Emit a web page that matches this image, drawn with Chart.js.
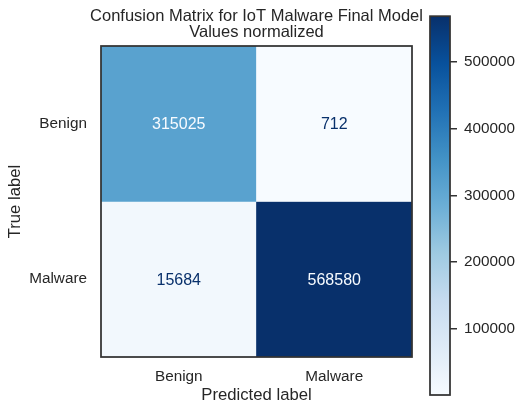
<!DOCTYPE html>
<html>
<head>
<meta charset="utf-8">
<script src="https://cdn.jsdelivr.net/npm/chart.js@4/dist/chart.umd.min.js"></script>
<style>
  html, body { margin: 0; padding: 0; background: #ffffff; }
  #wrap { position: relative; width: 524px; height: 415px; overflow: hidden; }
  canvas { position: absolute; top: 0; }
</style>
</head>
<body>
<div id="wrap">
  <canvas id="heat" width="513" height="415" style="left:0;width:513px;height:415px"></canvas>
  <canvas id="cbar" width="124" height="415" style="left:400px;width:124px;height:415px"></canvas>
</div>
<script>
// ---- data ----
const trueLabels = ['Benign', 'Malware'];
const predLabels = ['Benign', 'Malware'];
const rowBenign = [315025, 712];
const rowMalware = [15684, 568580];
const colorbarTicks = [100000, 200000, 300000, 400000, 500000];
const titleLines = ['Confusion Matrix for IoT Malware Final Model', 'Values normalized'];

// ---- colour map (matplotlib "Blues") ----
const BLUES = ['#f7fbff','#deebf7','#c6dbef','#9ecae1','#6baed6','#4292c6','#2171b5','#08519c','#08306b'];
function hexToRgb(h){ return [parseInt(h.slice(1,3),16), parseInt(h.slice(3,5),16), parseInt(h.slice(5,7),16)]; }
function cmap(t){
  t = Math.max(0, Math.min(1, t));
  const p = t * (BLUES.length - 1);
  const i = Math.min(Math.floor(p), BLUES.length - 2);
  const f = p - i;
  const a = hexToRgb(BLUES[i]), b = hexToRgb(BLUES[i+1]);
  const c = a.map((v, k) => Math.round(v + (b[k] - v) * f));
  return 'rgb(' + c.join(',') + ')';
}

const matrix = [rowBenign, rowMalware];
const allVals = matrix.flat();
const vmin = Math.min(...allVals);
const vmax = Math.max(...allVals);
const norm = v => (v - vmin) / (vmax - vmin);
const thresh = (vmin + vmax) / 2;

const FONT = '"Liberation Sans", Arial, "Helvetica", sans-serif';
const TXT = '#262626';
Chart.defaults.font.family = FONT;
Chart.defaults.color = TXT;

const frame = {
  id: 'frame',
  afterDatasetsDraw(chart) {
    const a = chart.chartArea, c = chart.ctx;
    c.save();
    c.strokeStyle = '#333333';
    c.lineWidth = 1.75;
    c.strokeRect(a.left, a.top, a.right - a.left, a.bottom - a.top);
    c.restore();
  }
};

const cellText = {
  id: 'cellText',
  afterDatasetsDraw(chart) {
    const c = chart.ctx;
    c.save();
    c.font = '16px ' + FONT;
    c.textAlign = 'center';
    c.textBaseline = 'middle';
    chart.data.datasets.forEach((ds, di) => {
      const meta = chart.getDatasetMeta(di);
      meta.data.forEach((el, i) => {
        const v = ds.values[i];
        c.fillStyle = v > thresh ? cmap(0) : cmap(1);
        c.fillText(String(v), el.x, (el.y + el.base) / 2 + 1);
      });
    });
    c.restore();
  }
};

new Chart(document.getElementById('heat'), {
  type: 'bar',
  data: {
    labels: predLabels,
    datasets: matrix.map((row, r) => ({
      label: trueLabels[r],
      data: row.map(() => [r - 0.5, r + 0.5]),
      values: row,
      backgroundColor: row.map(v => cmap(norm(v))),
      borderWidth: 0,
      barPercentage: 1,
      categoryPercentage: 1,
      grouped: false
    }))
  },
  options: {
    responsive: false,
    animation: false,
    events: [],
    layout: { padding: 0 },
    plugins: {
      legend: { display: false },
      tooltip: { enabled: false },
      title: {
        display: true,
        text: titleLines,
        color: TXT,
        font: { size: 16.5, lineHeight: 1.0, weight: 'normal' },
        padding: { top: 8, bottom: 5 }
      }
    },
    scales: {
      x: {
        type: 'category',
        offset: true,
        grid: { display: false, drawTicks: false },
        border: { display: false },
        ticks: { font: { size: 15.3 }, color: TXT, padding: 11 },
        title: { display: true, text: 'Predicted label', color: TXT, font: { size: 16.7 }, padding: { top: 0, bottom: 10 } },
        afterFit(s) { s.height = 58; }
      },
      y: {
        type: 'linear',
        reverse: true,
        min: -0.5,
        max: 1.5,
        afterBuildTicks(s) { s.ticks = trueLabels.map((_, i) => ({ value: i })); },
        grid: { display: false, drawTicks: false },
        border: { display: false },
        ticks: { autoSkip: false, font: { size: 15.3 }, color: TXT, padding: 14,
                 callback: v => trueLabels[v] },
        title: { display: true, text: 'True label', color: TXT, font: { size: 16.7 }, padding: { top: 5, bottom: 0 } },
        afterFit(s) { s.width = 101; }
      },
      ySpacer: {
        type: 'linear',
        position: 'right',
        display: true,
        grid: { display: false, drawTicks: false },
        border: { display: false },
        ticks: { display: false },
        afterFit(s) { s.width = 101; }
      }
    }
  },
  plugins: [cellText, frame]
});

new Chart(document.getElementById('cbar'), {
  type: 'bar',
  data: {
    labels: [''],
    datasets: [{
      data: [[vmin, vmax]],
      borderWidth: 0,
      barPercentage: 1,
      categoryPercentage: 1,
      backgroundColor(ctx) {
        const chart = ctx.chart;
        const y = chart.scales.y;
        if (!chart.chartArea || !y) return BLUES[4];
        const g = chart.ctx.createLinearGradient(0, y.getPixelForValue(vmin), 0, y.getPixelForValue(vmax));
        BLUES.forEach((col, i) => g.addColorStop(i / (BLUES.length - 1), col));
        return g;
      }
    }]
  },
  options: {
    responsive: false,
    animation: false,
    events: [],
    layout: { padding: { left: 30, right: 0, top: 10, bottom: 20 } },
    plugins: { legend: { display: false }, tooltip: { enabled: false } },
    scales: {
      x: { display: false },
      y: {
        position: 'right',
        min: vmin,
        max: vmax,
        afterBuildTicks(s) { s.ticks = colorbarTicks.map(v => ({ value: v })); },
        grid: { drawOnChartArea: false, tickLength: 7, color: '#333333', lineWidth: 1.5 },
        border: { display: false },
        ticks: { autoSkip: false, font: { size: 15.3 }, color: TXT, padding: 7, callback: v => String(v) },
        afterFit(s) { s.width = 74; }
      }
    }
  },
  plugins: [frame]
});
</script>
</body>
</html>
